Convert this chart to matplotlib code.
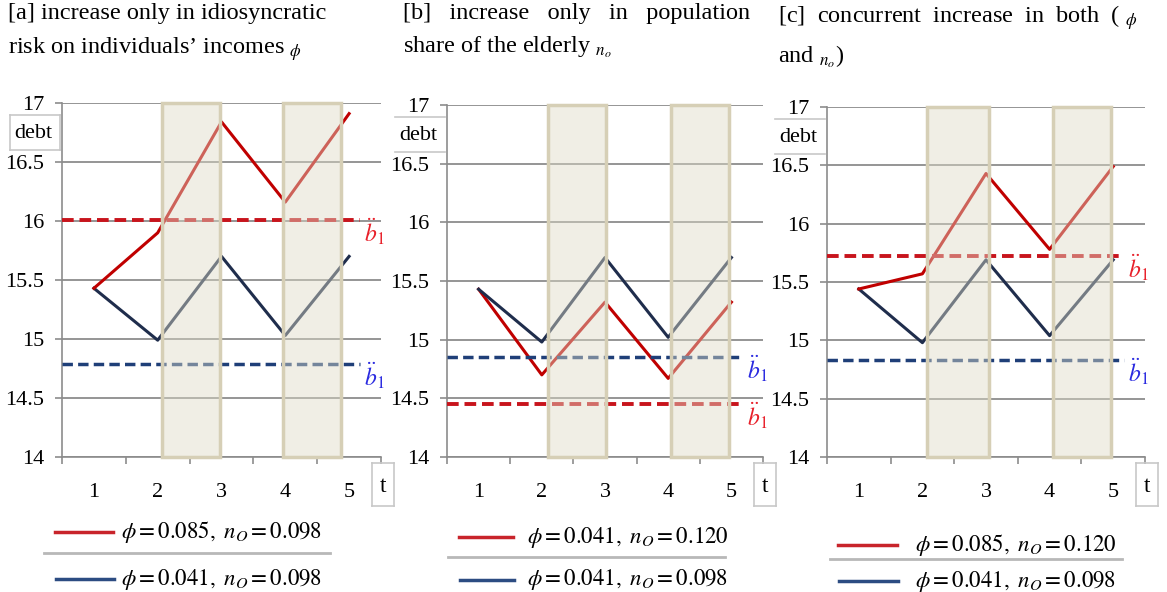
import numpy as np
import matplotlib
matplotlib.use("Agg")
import matplotlib.pyplot as plt
from matplotlib.patches import Rectangle
from matplotlib.lines import Line2D

plt.rcParams['font.family'] = 'serif'
plt.rcParams['font.serif'] = ['Liberation Serif', 'DejaVu Serif']
plt.rcParams['mathtext.fontset'] = 'stix'

# data
periods = [1, 2, 3, 4, 5]
yticks = [14, 14.5, 15, 15.5, 16, 16.5, 17]
ytick_labels = ['14', '14.5', '15', '15.5', '16', '16.5', '17']

a_red = [15.43, 15.90, 16.84, 16.16, 16.91]
a_blue = [15.43, 14.99, 15.70, 15.03, 15.70]
a_red_ss, a_blue_ss = 16.01, 14.79

b_red = [15.43, 14.70, 15.32, 14.67, 15.32]
b_blue = [15.43, 14.98, 15.70, 15.02, 15.70]
b_red_ss, b_blue_ss = 14.45, 14.85

c_red = [15.44, 15.57, 16.43, 15.78, 16.49]
c_blue = [15.44, 14.98, 15.69, 15.04, 15.69]
c_red_ss, c_blue_ss = 15.72, 14.83

titles = [
    "[a] increase only in idiosyncratic\nrisk on individuals\u2019 incomes $_{\\phi}$",
    "[b]   increase   only   in   population\nshare of the elderly $_{n_o}$",
    "[c]  concurrent  increase  in  both  ( $_{\\phi}$\nand $_{n_o}$)",
]
legend_red = [r"$\phi = 0.085,\ n_O = 0.098$",
              r"$\phi = 0.041,\ n_O = 0.120$",
              r"$\phi = 0.085,\ n_O = 0.120$"]
legend_blue = [r"$\phi = 0.041,\ n_O = 0.098$"] * 3

RED = '#c00000'
NAVY = '#1f2d4c'
DRED = '#c8141c'
DBLUE = '#1f3f78'
GRID = '#8c8c8c'
BOXEDGE = '#c8c8c8'

W, H = 1167, 592
fig = plt.figure(figsize=(W / 100, H / 100), dpi=100)


def fx(x):
    return x / W


def fy(y):
    return 1 - y / H


def hline(x0, x1, y, **kw):
    fig.add_artist(Line2D([fx(x0), fx(x1)], [fy(y), fy(y)], **kw))


def vline(x, y0, y1, **kw):
    fig.add_artist(Line2D([fx(x), fx(x)], [fy(y0), fy(y1)], **kw))


# axes boxes in pixels: left, right, top, bottom
boxes = [(62, 381, 103, 457), (447, 763, 105, 457), (827, 1145, 107, 457)]
shades = [[(2.07, 2.98), (3.97, 4.88)],
          [(2.10, 3.02), (4.04, 4.96)],
          [(2.07, 3.05), (4.05, 4.97)]]
series = [(a_red, a_blue, a_red_ss, a_blue_ss),
          (b_red, b_blue, b_red_ss, b_blue_ss),
          (c_red, c_blue, c_red_ss, c_blue_ss)]
title_x = [8, 403, 778]
leg = [  # red y, blue y, sep y, line x0, line x1, text x, sep x0, sep x1
    (532, 579, 553, 55, 113, 121, 44, 330),
    (537, 580, 557, 459, 513, 527, 448, 725),
    (545, 581, 559, 838, 897, 915, 830, 1122),
]

for i, (l, r, t, b) in enumerate(boxes):
    ax = fig.add_axes([fx(l), fy(b), fx(r - l), fy(t) - fy(b)])
    red, blue, red_ss, blue_ss = series[i]
    ax.set_xlim(0.5, 5.5)
    ax.set_ylim(14, 17)
    ax.set_yticks(yticks)
    ax.set_yticklabels(ytick_labels, fontsize=16)
    ax.set_xticks(periods)
    ax.set_xticklabels([str(p) for p in periods], fontsize=16)
    ax.set_xticks(np.arange(0.5, 6.0, 1.0), minor=True)
    ax.tick_params(axis='x', which='major', length=0, pad=19)
    ax.tick_params(axis='x', which='minor', length=5, color=GRID, width=1.2)
    ax.tick_params(axis='y', length=5, color=GRID, width=1.2, pad=8)
    ax.grid(axis='y', color=GRID, lw=1.3)
    ax.set_axisbelow(True)
    for s in ['top', 'right']:
        ax.spines[s].set_visible(False)
    for s in ['left', 'bottom']:
        ax.spines[s].set_color(GRID)
        ax.spines[s].set_linewidth(1.2)

    if i == 1:
        ax.plot(periods, red, color=RED, lw=2.2, zorder=3)
        ax.plot(periods, blue, color=NAVY, lw=2.2, zorder=3)
    else:
        ax.plot(periods, blue, color=NAVY, lw=2.2, zorder=3)
        ax.plot(periods, red, color=RED, lw=2.2, zorder=3)
    ax.plot([0.5, 5.17], [red_ss, red_ss], color=DRED, lw=2.8,
            ls=(0, (3, 1.5)), zorder=3)
    ax.plot([0.5, 5.17], [blue_ss, blue_ss], color=DBLUE, lw=2.5,
            ls=(0, (3, 1.5)), zorder=3)
    ax.text(5.24, red_ss + 0.03, r"$\ddot{b}_1$", color='#e8202a', fontsize=17,
            va='top', ha='left')
    ax.text(5.24, blue_ss + 0.03, r"$\ddot{b}_1$", color='#2a2ae0', fontsize=17,
            va='top', ha='left')

    for x0, x1 in shades[i]:
        ax.add_patch(Rectangle((x0, 14), x1 - x0, 3, facecolor=(0.87, 0.86, 0.78, 0.45),
                               edgecolor='#d6cfb6', lw=2.5, zorder=4, clip_on=False))

    # "debt" box
    hline(l - 52, l - 2, t + 12, color=BOXEDGE, lw=1.2)
    hline(l - 52, l - 2, t + 47, color=BOXEDGE, lw=1.2)
    if i == 0:
        vline(l - 52, t + 12, t + 47, color=BOXEDGE, lw=1.2)
        vline(l - 2, t + 12, t + 47, color=BOXEDGE, lw=1.2)
    fig.text(fx(l - 29), fy(t + 31), "debt", fontsize=16, ha='center', va='center')

    # "t" box
    vline(r - 9, b + 6, b + 49, color=BOXEDGE, lw=1.2)
    vline(r + 13, b + 6, b + 49, color=BOXEDGE, lw=1.2)
    hline(r - 9, r + 13, b + 6, color=BOXEDGE, lw=1.2)
    hline(r - 9, r + 13, b + 49, color=BOXEDGE, lw=1.2)
    fig.text(fx(r + 2), fy(b + 30), "t", fontsize=17, ha='center', va='center')

    # title
    fig.text(fx(title_x[i]), fy(3), titles[i], fontsize=17.5, ha='left', va='top',
             linespacing=1.6)

    # legend
    ry, by, sy, lx0, lx1, tx, sx0, sx1 = leg[i]
    hline(lx0, lx1, ry, color='#c8242b', lw=2.5)
    hline(lx0 + 1, lx1 + 1, by, color='#2c4c82', lw=2.5)
    hline(sx0, sx1, sy, color='#b8b8b8', lw=2)
    fig.text(fx(tx), fy(ry), legend_red[i], fontsize=16.5, ha='left', va='center')
    fig.text(fx(tx), fy(by), legend_blue[i], fontsize=16.5, ha='left', va='center')

fig.savefig("out.png", dpi=100)
